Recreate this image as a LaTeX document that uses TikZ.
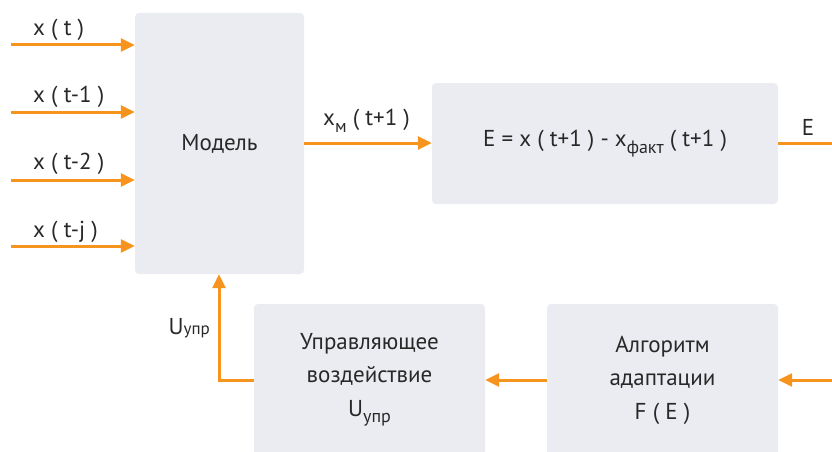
\documentclass[tikz,border=0pt]{standalone}
\usepackage{fontspec}
\setmainfont{PT Sans}
\usetikzlibrary{arrows.meta}
\definecolor{boxfill}{RGB}{235,236,241}
\definecolor{arrowc}{RGB}{247,148,30}
\definecolor{txt}{RGB}{40,40,40}
\newcommand\lsub[1]{\raisebox{-0.28em}{\fontsize{18}{20}\selectfont #1}}
\begin{document}
\begin{tikzpicture}[x=1pt,y=-1pt,
  blk/.style={fill=boxfill,draw=none,rounded corners=4pt,inner sep=0pt,text=txt,align=center,font=\fontsize{23}{34}\selectfont},
  arr/.style={draw=arrowc,line width=3pt,-{Triangle[length=14pt,width=13pt]}},
  ln/.style={draw=arrowc,line width=3pt},
  lbl/.style={text=txt,font=\fontsize{23}{26}\selectfont,inner sep=0pt}]
\clip (0,0) rectangle (832,452);
\useasboundingbox (0,0) rectangle (832,452);
\node[blk,minimum width=169pt,minimum height=261pt] (model) at (219.5,143.5) {Модель};
\node[blk,minimum width=346pt,minimum height=121pt] (ebox) at (605,143.5) {E = x ( t+1 ) - x\lsub{факт} ( t+1 )};
\node[blk,minimum width=231pt,minimum height=160pt] (upr) at (369.5,384) {};
\node[blk,minimum width=231pt,minimum height=160pt] (algo) at (662.5,384) {};
\node[lbl,align=center,font=\fontsize{23}{33.5}\selectfont] (uprt) at (369.5,380) {Управляющее\\воздействие\\U\lsub{упр}};
\node[lbl,align=center,font=\fontsize{23}{33.5}\selectfont] (algot) at (662.5,380) {Алгоритм\\адаптации\\F ( E )};
% inputs
\coordinate (s1) at (11,45);
\coordinate (s2) at (11,112);
\coordinate (s3) at (11,180);
\coordinate (s4) at (11,246);
\draw[arr] (s1) -- (s1 -| model.west);
\draw[arr] (s2) -- (s2 -| model.west);
\draw[arr] (s3) -- (s3 -| model.west);
\draw[arr] (s4) -- (s4 -| model.west);
\node[lbl,anchor=west] (l1) at (33,30) {x ( t )};
\node[lbl,anchor=west] (l2) at (33,97) {x ( t-1 )};
\node[lbl,anchor=west] (l3) at (33,164) {x ( t-2 )};
\node[lbl,anchor=west] (l4) at (33,232) {x ( t-j )};
% model -> ebox
\draw[arr] (model.east |- 0,143) -- (ebox.west |- 0,143);
\node[lbl,anchor=west] (lxm) at (323,121) {x\lsub{м} ( t+1 )};
% output
\coordinate (eout) at (832,143);
\draw[ln] (ebox.east |- eout) -- (eout);
\node[lbl] (le) at (808,127) {E};
% feedback
\coordinate (fin) at (832,380);
\draw[arr] (fin) -- (fin -| algo.east);
\draw[arr] (algo.west |- fin) -- (upr.east |- fin);
\coordinate (corner) at (219,380);
\draw[arr] (upr.west |- corner) -- (corner) -- (corner |- model.south);
\node[lbl,anchor=east] (lu) at (210,328) {U{\fontsize{17}{18}\selectfont упр}};
\end{tikzpicture}
\end{document}
